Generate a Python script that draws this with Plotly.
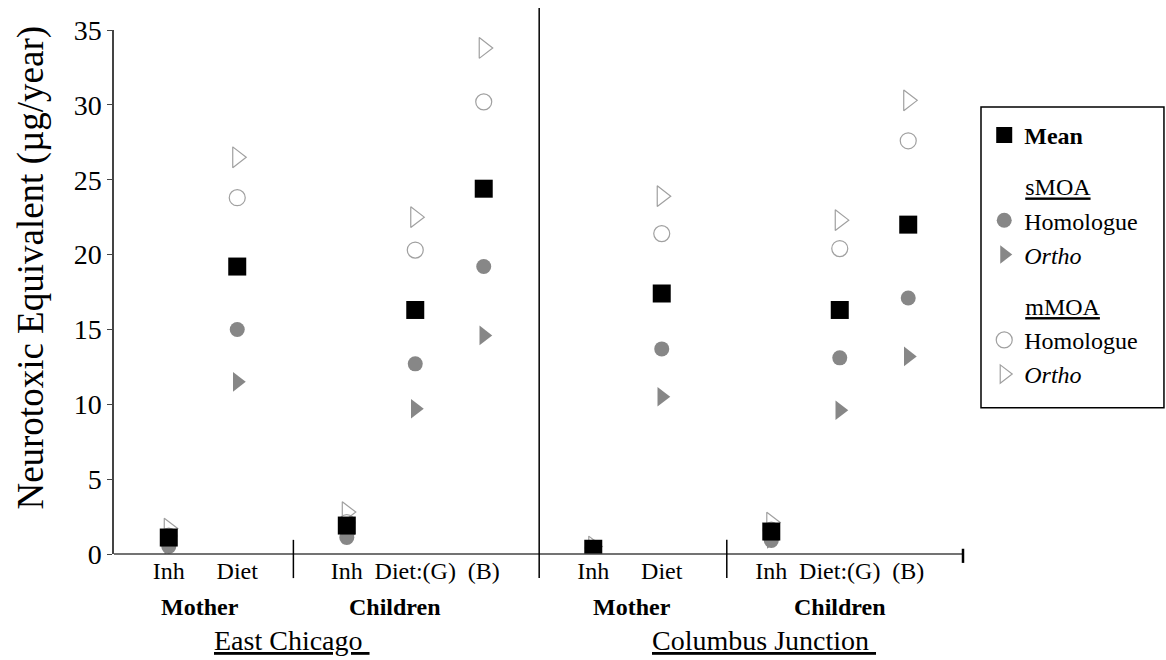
import plotly.graph_objects as go

# ---- data ----
tick_labels = ["Inh", "Diet", "Inh", "Diet:(G)", "(B)", "Inh", "Diet", "Inh", "Diet:(G)", "(B)"]
mean_vals = [1.1, 19.2, 1.9, 16.3, 24.4, 0.35, 17.4, 1.5, 16.3, 22.0]
smoa_homologue = [0.5, 15.0, 1.1, 12.7, 19.2, 0.3, 13.7, 0.9, 13.1, 17.1]
smoa_ortho = [0.6, 11.5, 1.3, 9.7, 14.6, 0.3, 10.5, 1.0, 9.6, 13.2]
mmoa_homologue = [1.2, 23.8, 2.1, 20.3, 30.2, 0.4, 21.4, 1.6, 20.4, 27.6]
mmoa_ortho = [1.7, 26.5, 2.8, 22.5, 33.8, 0.5, 23.9, 2.1, 22.3, 30.3]
group_labels = ["Mother", "Children", "Mother", "Children"]
region_labels = ["East Chicago", "Columbus Junction"]
y_ticks = [0, 5, 10, 15, 20, 25, 30, 35]

# ---- layout constants ----
x_pos = [0.8, 1.8, 3.4, 4.4, 5.4, 7.0, 8.0, 9.6, 10.6, 11.6]
x_max = 12.4
group_x = [1.25, 4.1, 7.57, 10.6]
region_x = [2.6, 9.5]
div_small = [2.62, 8.95]
div_main = 6.21
FONT = "Liberation Serif, Times New Roman, serif"
GREY = "#878787"
OPEN = "#a0a0a0"

fig = go.Figure()

fig.add_trace(go.Scatter(
    x=x_pos, y=smoa_homologue, mode="markers", name="Homologue",
    legendgroup="smoa",
    legendgrouptitle=dict(text="&nbsp;&nbsp;&nbsp;&nbsp;&nbsp;&nbsp;<u>sMOA</u>", font=dict(size=24, family=FONT, color="black")),
    legendrank=2, marker=dict(symbol="circle", size=15, color=GREY, line=dict(width=0))))
fig.add_trace(go.Scatter(
    x=x_pos, y=smoa_ortho, mode="markers", name="<i>Ortho</i>",
    legendgroup="smoa", legendrank=3,
    marker=dict(symbol="triangle-right", size=17, color=GREY, line=dict(width=0))))
fig.add_trace(go.Scatter(
    x=x_pos, y=mmoa_homologue, mode="markers", name="Homologue",
    legendgroup="mmoa",
    legendgrouptitle=dict(text="&nbsp;&nbsp;&nbsp;&nbsp;&nbsp;&nbsp;<u>mMOA</u>", font=dict(size=24, family=FONT, color="black")),
    legendrank=4, marker=dict(symbol="circle-open", size=16, color=OPEN, line=dict(width=1.2, color=OPEN))))
fig.add_trace(go.Scatter(
    x=x_pos, y=mmoa_ortho, mode="markers", name="<i>Ortho</i>",
    legendgroup="mmoa", legendrank=5,
    marker=dict(symbol="triangle-right-open", size=18, color=OPEN, line=dict(width=1.2, color=OPEN))))
fig.add_trace(go.Scatter(
    x=x_pos, y=mean_vals, mode="markers", name="<b>Mean</b>",
    legendgroup="mean", legendrank=1,
    marker=dict(symbol="square", size=18, color="black", line=dict(width=0))))

shapes = [
    dict(type="line", xref="paper", yref="paper", x0=0, x1=1, y0=0, y1=0, line=dict(color="#444", width=1.5)),
    dict(type="line", xref="x", yref="paper", x0=div_main, x1=div_main, y0=-0.046, y1=1.042, line=dict(color="black", width=1.5)),
    dict(type="line", xref="x", yref="paper", x0=div_small[0], x1=div_small[0], y0=-0.046, y1=0.027, line=dict(color="black", width=1.5)),
    dict(type="line", xref="x", yref="paper", x0=div_small[1], x1=div_small[1], y0=-0.046, y1=0.027, line=dict(color="black", width=1.5)),
    dict(type="line", xref="paper", yref="paper", x0=1, x1=1, y0=-0.017, y1=0.01, line=dict(color="black", width=2.5)),
    # legend frame
    dict(type="rect", xref="paper", yref="paper", x0=1.0212, x1=1.2367, y0=0.279, y1=0.853,
         line=dict(color="black", width=1.5), fillcolor="rgba(0,0,0,0)"),
]

annotations = [
    dict(x=-0.0975, y=0.547, xref="paper", yref="paper", text="Neurotoxic Equivalent (µg/year)",
         textangle=-90, showarrow=False, font=dict(size=37, family=FONT, color="black"),
         xanchor="center", yanchor="middle"),
]
for gx, gl in zip(group_x, group_labels):
    annotations.append(dict(x=gx, y=-0.101, xref="x", yref="paper", text="<b>" + gl + "</b>",
                            showarrow=False, font=dict(size=24, family=FONT, color="black"), yanchor="middle"))
for rx, rl in zip(region_x, region_labels):
    annotations.append(dict(x=rx, y=-0.165, xref="x", yref="paper", text="<u>" + rl + "&nbsp;</u>",
                            showarrow=False, font=dict(size=28, family=FONT, color="black"), yanchor="middle"))

fig.update_layout(
    width=1166, height=660,
    margin=dict(l=114, r=203, t=30, b=106, autoexpand=False),
    paper_bgcolor="white", plot_bgcolor="white",
    font=dict(family=FONT, color="black"),
    showlegend=True,
    legend=dict(x=1.025, y=0.842, xanchor="left", yanchor="top", traceorder="grouped",
                tracegroupgap=17, font=dict(size=24, family=FONT, color="black"),
                bgcolor="rgba(0,0,0,0)", borderwidth=0, itemclick=False),
    xaxis=dict(range=[0, x_max], tickmode="array", tickvals=x_pos, ticktext=tick_labels,
               showgrid=False, zeroline=False, showline=False, ticks="", automargin=False,
               tickfont=dict(size=24, family=FONT, color="black")),
    yaxis=dict(range=[0, 35], tickmode="array", tickvals=y_ticks, automargin=False,
               showgrid=False, zeroline=False, showline=True, linecolor="#444", linewidth=1.5,
               ticks="outside", ticklen=5, tickcolor="#444",
               tickfont=dict(size=28, family=FONT, color="black")),
    shapes=shapes, annotations=annotations,
)

# remove the default page margin so the 1166x660 figure fills the window exactly
fig.write_html("out.html", config={"displayModeBar": False},
               post_script="document.body.style.margin='0';document.body.style.overflow='hidden';")
